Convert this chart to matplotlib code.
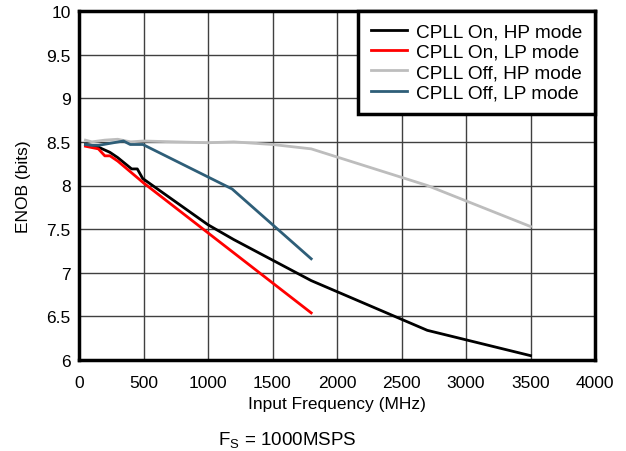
import matplotlib
matplotlib.use("Agg")
import matplotlib.pyplot as plt

plt.rcParams['font.family'] = ['Liberation Sans', 'DejaVu Sans']
plt.rcParams['mathtext.fontset'] = 'custom'
plt.rcParams['mathtext.rm'] = 'Liberation Sans'

# data
on_hp_f = [50, 100, 150, 240, 300, 408, 452, 494, 1000, 1200, 1800, 2700, 3500]
on_hp_y = [8.47, 8.46, 8.44, 8.38, 8.32, 8.19, 8.19, 8.08, 7.55, 7.38, 6.91, 6.34, 6.05]

on_lp_f = [50, 150, 200, 240, 300, 500, 1800]
on_lp_y = [8.45, 8.42, 8.34, 8.34, 8.28, 8.03, 6.54]

off_hp_f = [50, 100, 200, 300, 400, 500, 1000, 1200, 1500, 1800, 2700, 3500]
off_hp_y = [8.52, 8.50, 8.52, 8.53, 8.50, 8.51, 8.49, 8.50, 8.47, 8.42, 8.00, 7.53]

off_lp_f = [50, 100, 150, 345, 397, 495, 1187, 1800]
off_lp_y = [8.47, 8.46, 8.46, 8.51, 8.47, 8.47, 7.96, 7.16]

labels = ['CPLL On, HP mode', 'CPLL On, LP mode', 'CPLL Off, HP mode', 'CPLL Off, LP mode']
colors = ['#000000', '#ff0000', '#bdbdbd', '#2e5e78']

fig = plt.figure(figsize=(6.26, 4.52), dpi=100)
ax = fig.add_axes([79 / 626, 1 - 361 / 452, (595 - 79) / 626, (361 - 12) / 452])

ax.plot(on_hp_f, on_hp_y, color=colors[0], lw=2, label=labels[0])
ax.plot(on_lp_f, on_lp_y, color=colors[1], lw=2, label=labels[1])
ax.plot(off_hp_f, off_hp_y, color=colors[2], lw=2, label=labels[2])
ax.plot(off_lp_f, off_lp_y, color=colors[3], lw=2, label=labels[3])

ax.set_xlim(0, 4000)
ax.set_ylim(6, 10)
ax.set_xticks(range(0, 4001, 500))
ax.set_yticks([6, 6.5, 7, 7.5, 8, 8.5, 9, 9.5, 10])
ax.set_yticklabels(['6', '6.5', '7', '7.5', '8', '8.5', '9', '9.5', '10'])
ax.grid(True, color='0.25', lw=1)
ax.set_axisbelow(True)
ax.tick_params(axis='x', length=0, labelsize=12.5, pad=11)
ax.tick_params(axis='y', length=0, labelsize=12.5, pad=6)
for s in ax.spines.values():
    s.set_linewidth(2.5)

ax.set_xlabel('Input Frequency (MHz)', fontsize=12.5, labelpad=4)
ax.set_ylabel('ENOB (bits)', fontsize=12.5, labelpad=11)

leg = ax.legend(loc='upper right', fontsize=13.7, fancybox=False, framealpha=1,
                edgecolor='black', handlelength=1.9, handletextpad=0.5,
                borderaxespad=0, labelspacing=0.15, borderpad=0.65)
leg.get_frame().set_linewidth(2.5)

fig.text(287 / 626, 1 - 441 / 452, r'F$_\mathregular{S}$ = 1000MSPS',
         ha='center', va='center', fontsize=13.5)

fig.savefig('out.png', dpi=100)
